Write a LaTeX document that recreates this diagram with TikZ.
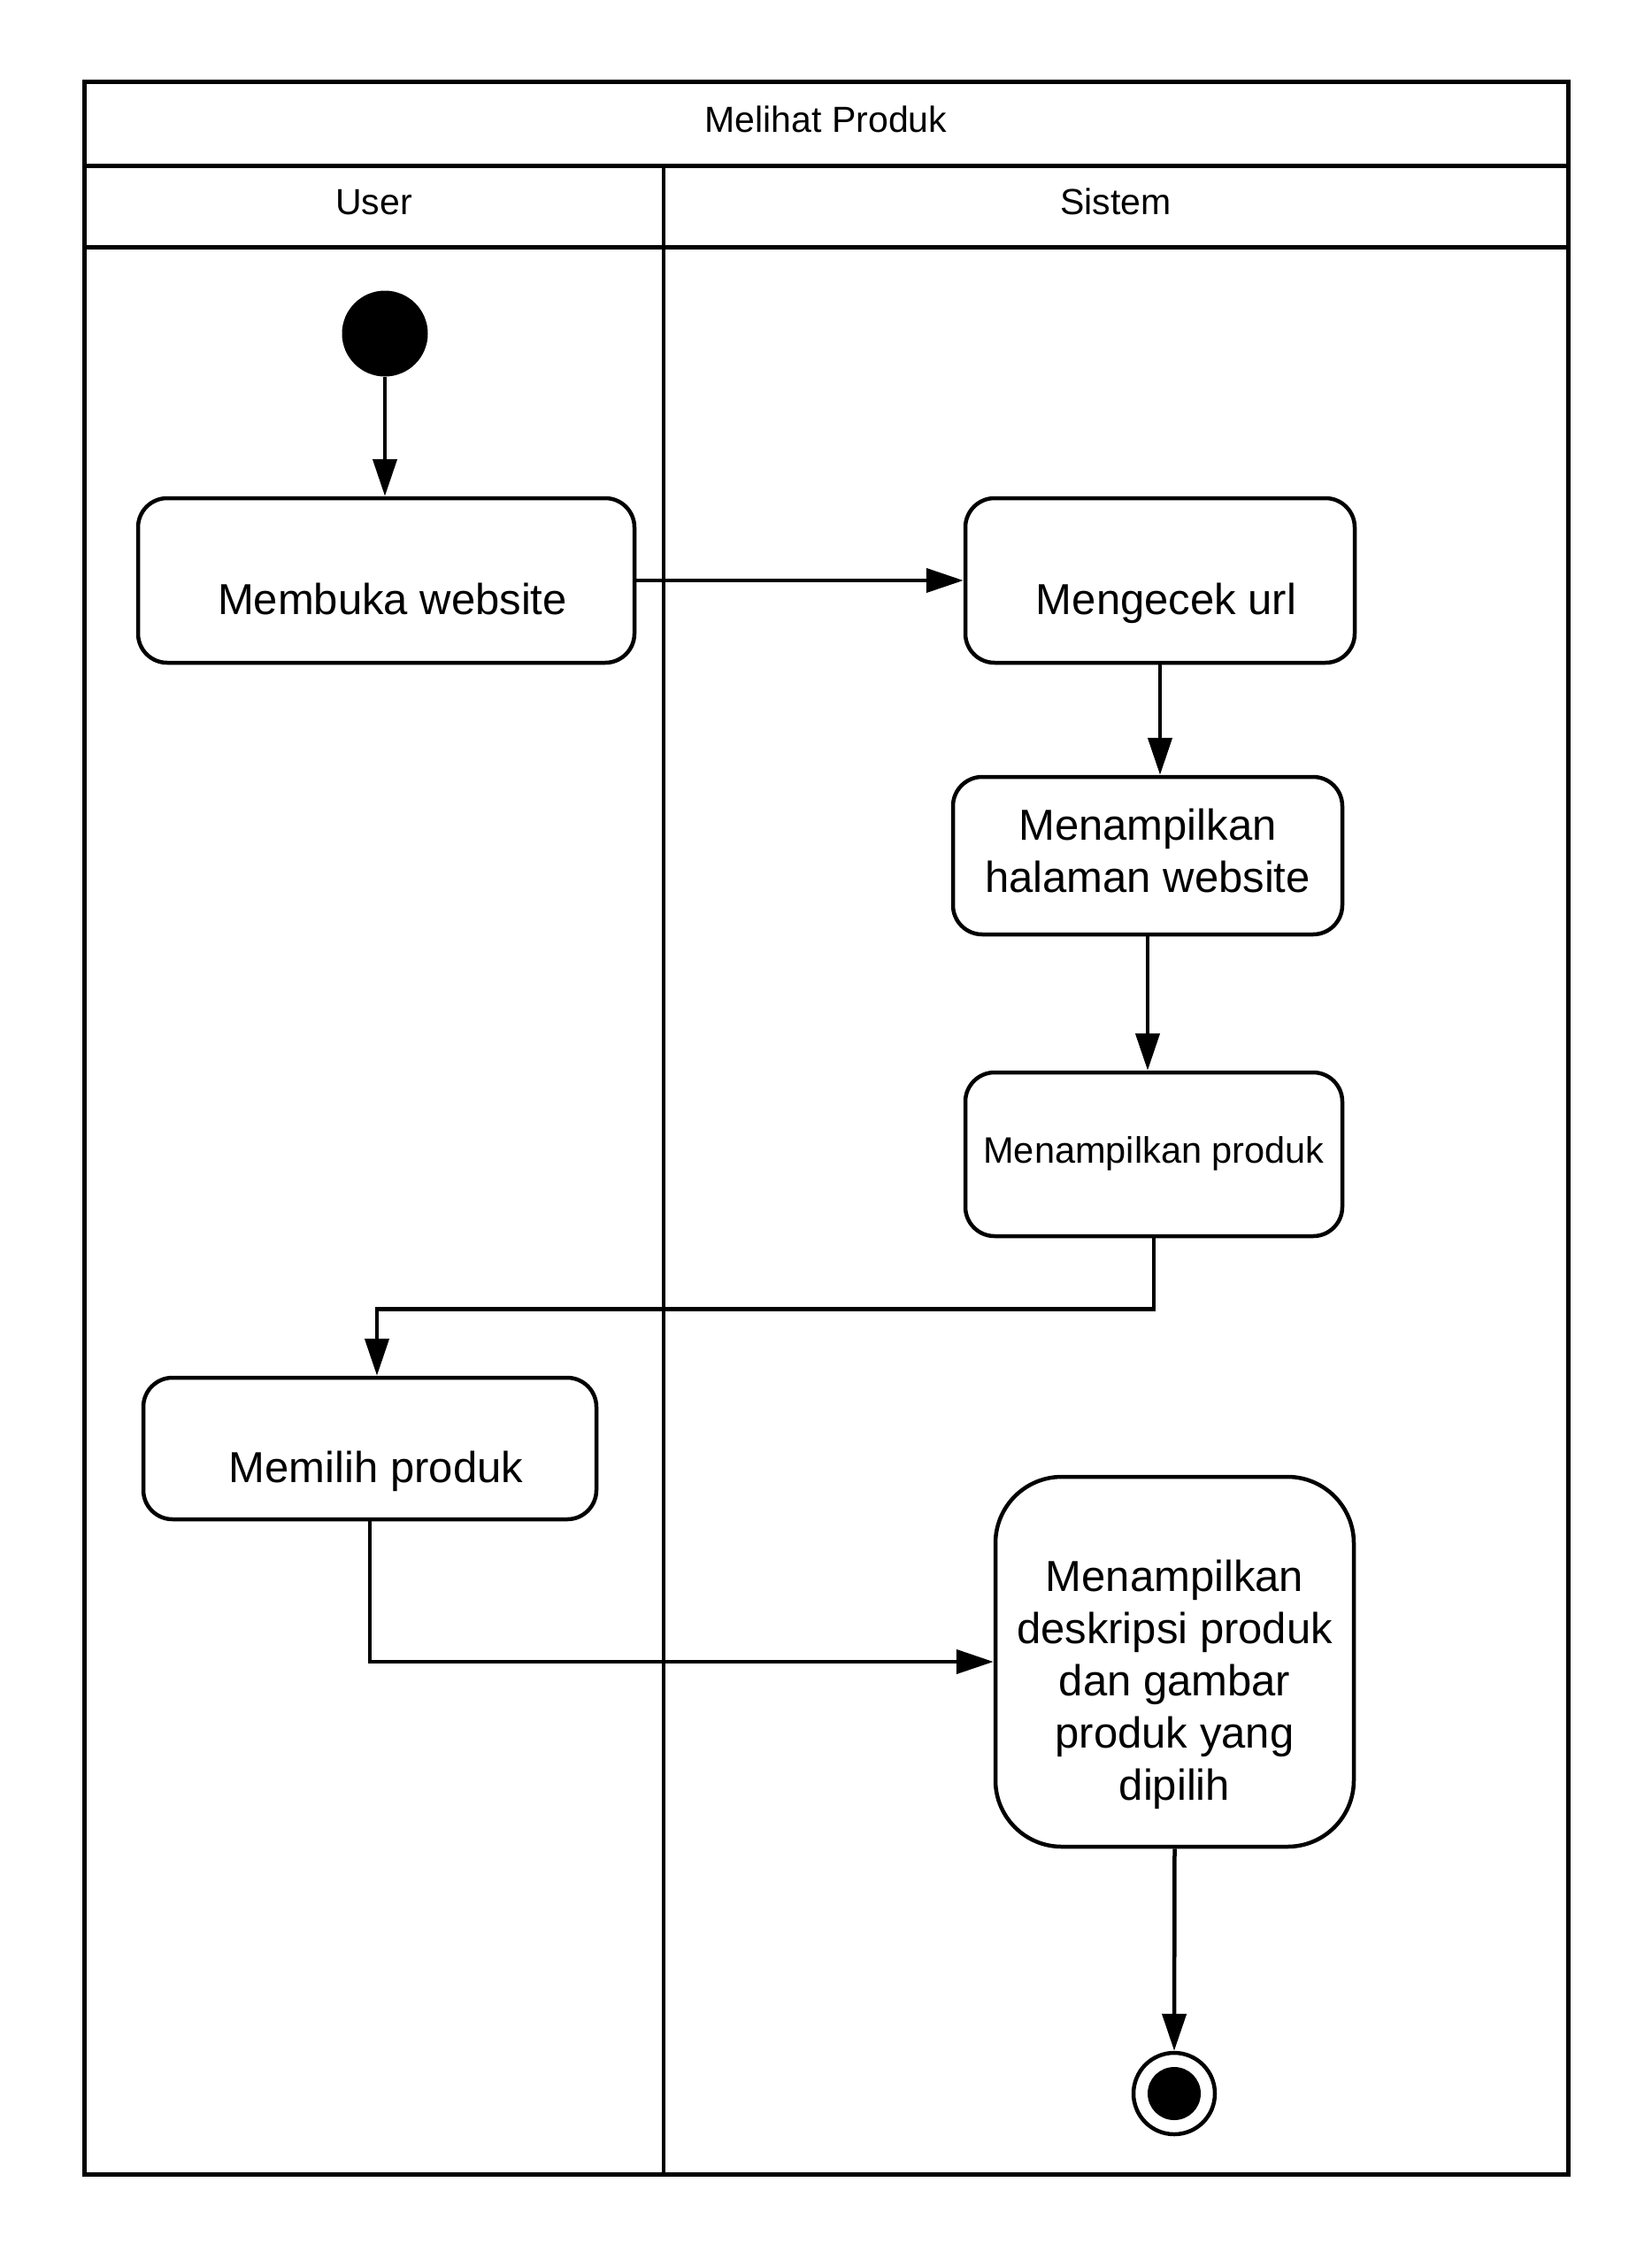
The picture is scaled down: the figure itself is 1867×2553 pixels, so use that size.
\documentclass[tikz,border=0pt]{standalone}
\usepackage{fontspec}
\setmainfont{Liberation Sans}
\usetikzlibrary{arrows.meta}

% centred text block, optionally lowered and nudged right inside its box
\newcommand\droptext[2][0pt]{\raisebox{-27pt}[\height][\depth]{\hspace*{#1}\begin{tabular}{@{}c@{}}#2\end{tabular}}}
\newcommand\plaintext[1]{\begin{tabular}{@{}c@{}}#1\end{tabular}}

\begin{document}
\begin{tikzpicture}[x=1pt,y=-1pt,
  frameline/.style={line width=5pt},
  lanediv/.style={line width=3.5pt},
  headtext/.style={font=\fontsize{41}{49}\selectfont, inner sep=0pt},
  action/.style={draw, line width=4.5pt, rounded corners=33pt, inner sep=0pt,
                 fill=white, font=\fontsize{49}{59}\selectfont},
  flow/.style={line width=4.5pt, -{Triangle[length=42pt,width=27pt]}},
  initial/.style={circle, fill=black, minimum size=97pt, inner sep=0pt},
  final/.style={circle, draw, line width=4.5pt, fill=white, minimum size=92pt, inner sep=0pt,
                path picture={\fill[black] (path picture bounding box.center) circle[radius=30pt];}},
]
\useasboundingbox (0,0) rectangle (1867,2553);

% swimlane frame
\draw[frameline] (95,93) rectangle (1772,2457);
\draw[frameline] (95,187) -- (1772,187);
\draw[frameline] (95,279) -- (1772,279);
\draw[lanediv] (750,187) -- (750,2457);

\node[headtext] (title) at (933.5,140) {\plaintext{Melihat Produk}};
\node[headtext] (userhead) at (422.5,233) {\plaintext{User}};
\node[headtext] (sistemhead) at (1261,233) {\plaintext{Sistem}};

% activities
\node[initial] (start) at (435,377) {};
\node[action, minimum width=561pt, minimum height=186pt] (membuka) at (436.5,656)
  {\droptext[14pt]{Membuka website}};
\node[action, minimum width=440pt, minimum height=186pt] (mengecek) at (1311,656)
  {\droptext[14pt]{Mengecek url}};
\node[action, minimum width=440pt, minimum height=178pt] (halaman) at (1297,967)
  {\plaintext{Menampilkan\\halaman website}};
\node[action, minimum width=426pt, minimum height=185pt, font=\fontsize{41.5}{50}\selectfont] (produk) at (1304,1304.5)
  {\plaintext{Menampilkan produk}};
\node[action, minimum width=512pt, minimum height=160pt] (memilih) at (418,1637)
  {\droptext[14pt]{Memilih produk}};
\node[action, rounded corners=75pt, minimum width=405pt, minimum height=418pt] (deskripsi) at (1327.5,1878)
  {\droptext{Menampilkan\\deskripsi produk\\dan gambar\\produk yang\\dipilih}};
\node[final] (stop) at (1327,2366) {};

% control flow
\draw[flow] (start.south) -- (start.south |- membuka.north);
\draw[flow] (membuka.east) -- (mengecek.west);
\draw[flow] (mengecek.south) -- (mengecek.south |- halaman.north);
\draw[flow] (halaman.south) -- (halaman.south |- produk.north);
\draw[flow] (produk.south) -- ++(0,80) -| ([xshift=8pt]memilih.north);
\draw[flow] (memilih.south) |- (deskripsi.west);
\draw[flow] (deskripsi.south) -- (stop.north);
\end{tikzpicture}
\end{document}
